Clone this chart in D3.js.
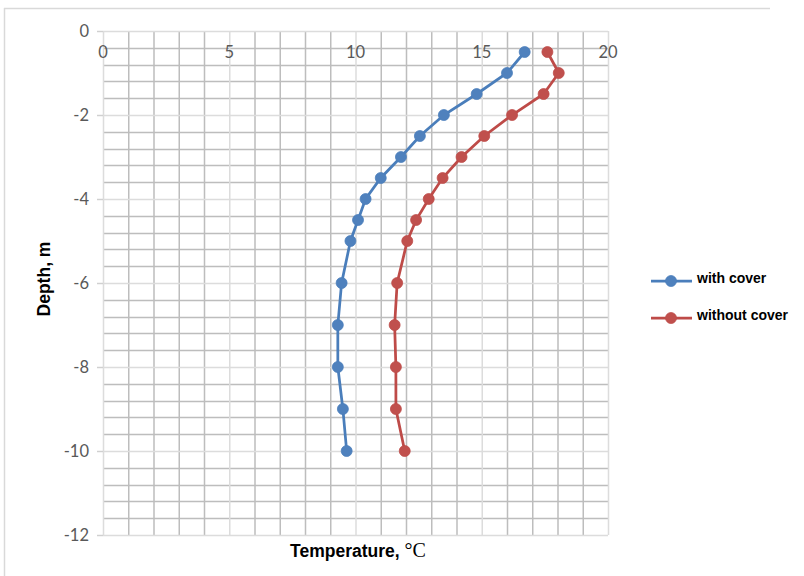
<!DOCTYPE html>
<html>
<head>
<meta charset="utf-8">
<script src="https://cdn.jsdelivr.net/npm/d3@7"></script>
<style>
  body { margin: 0; background: #fff; }
  .tick-label { font-family: Lato, "Liberation Sans", sans-serif; font-size: 16.5px; fill: #595959; }
  .axis-title { font-family: "Liberation Sans", Arial, sans-serif; font-weight: bold; font-size: 17.5px; fill: #000; }
  .legend-text { font-family: "Liberation Sans", Arial, sans-serif; font-weight: bold; font-size: 14px; fill: #000; }
</style>
</head>
<body>
<div id="chart"></div>
<script>
// depth below surface, m (plotted as negative)
const depths = [-0.5, -1, -1.5, -2, -2.5, -3, -3.5, -4, -4.5, -5, -6, -7, -8, -9, -10];
const withCover = [16.7, 16.0, 14.8, 13.5, 12.55, 11.8, 11.0, 10.4, 10.1, 9.8, 9.45, 9.3, 9.3, 9.5, 9.65];
const withoutCover = [17.6, 18.05, 17.45, 16.2, 15.1, 14.2, 13.45, 12.9, 12.4, 12.05, 11.65, 11.55, 11.6, 11.6, 11.95];
const seriesNames = ['with cover', 'without cover'];
const xTicks = [0, 5, 10, 15, 20];
const yTicks = [0, -2, -4, -6, -8, -10, -12];

const width = 804, height = 576;
const svg = d3.select('#chart').append('svg').attr('width', width).attr('height', height);

// outer frame (top + left only visible)
svg.append('line').attr('x1', 4).attr('x2', 770).attr('y1', 8.5).attr('y2', 8.5)
  .attr('stroke', '#d9d9d9').attr('stroke-width', 1.5);
svg.append('line').attr('x1', 4.5).attr('x2', 4.5).attr('y1', 8).attr('y2', height)
  .attr('stroke', '#d9d9d9').attr('stroke-width', 1.5);

const x = d3.scaleLinear().domain([0, 20]).range([103, 608]);
const y = d3.scaleLinear().domain([-12, 0]).range([535, 31]);

const grid = svg.append('g');
// minor gridlines
const xMinor = d3.range(0, 21, 1);
const yMinor = d3.range(0, 31).map(i => -i * 0.4);
grid.selectAll('.vminor').data(xMinor.filter(d => d % 5 !== 0)).enter().append('line')
  .attr('x1', d => x(d) + 0.5).attr('x2', d => x(d) + 0.5)
  .attr('y1', y(0)).attr('y2', y(-12))
  .attr('stroke', '#bdbdbd').attr('stroke-width', 1.5);
grid.selectAll('.hminor').data(yMinor.filter(d => Math.abs(d % 2) > 0.01 && Math.abs(d % 2) < 1.99)).enter().append('line')
  .attr('x1', x(0)).attr('x2', x(20))
  .attr('y1', d => Math.round(y(d)) + 0.5).attr('y2', d => Math.round(y(d)) + 0.5)
  .attr('stroke', '#bdbdbd').attr('stroke-width', 1.5);
// major gridlines (lighter)
grid.selectAll('.vmajor').data(xTicks).enter().append('line')
  .attr('x1', d => x(d) + 0.5).attr('x2', d => x(d) + 0.5)
  .attr('y1', y(0)).attr('y2', y(-12))
  .attr('stroke', '#dcdcdc').attr('stroke-width', 1.5);
grid.selectAll('.hmajor').data(yTicks).enter().append('line')
  .attr('x1', x(0)).attr('x2', x(20))
  .attr('y1', d => Math.round(y(d)) + 0.5).attr('y2', d => Math.round(y(d)) + 0.5)
  .attr('stroke', '#dcdcdc').attr('stroke-width', 1.5);

// y axis tick marks + labels
grid.selectAll('.ytick').data(yTicks).enter().append('line')
  .attr('x1', x(0) - 6).attr('x2', x(0))
  .attr('y1', d => Math.round(y(d)) + 0.5).attr('y2', d => Math.round(y(d)) + 0.5)
  .attr('stroke', '#d0d0d0').attr('stroke-width', 1.5);
svg.selectAll('.ylab').data(yTicks).enter().append('text')
  .attr('class', 'tick-label')
  .attr('x', 89).attr('y', d => y(d)).attr('dy', '0.35em')
  .attr('text-anchor', 'end')
  .text(d => d);

// x axis labels (Excel puts them just under the axis at top)
svg.selectAll('.xlab').data(xTicks).enter().append('text')
  .attr('class', 'tick-label')
  .attr('x', d => x(d)).attr('y', y(0) + 21).attr('dy', '0.35em')
  .attr('text-anchor', 'middle')
  .text(d => d);

// axis titles
svg.append('text').attr('class', 'axis-title')
  .attr('transform', 'translate(50,279) rotate(-90)')
  .attr('text-anchor', 'middle')
  .text('Depth, m');
const xt = svg.append('text').attr('class', 'axis-title')
  .attr('x', 358).attr('y', 557).attr('text-anchor', 'middle');
xt.append('tspan').text('Temperature, ');
xt.append('tspan').attr('font-family', '"Liberation Serif", serif').attr('font-weight', 'normal').attr('font-size', 20).text('°C');

// series
const series = [
  {name: seriesNames[0], values: withCover, line: '#4a7ebb', fill: '#4f81bd'},
  {name: seriesNames[1], values: withoutCover, line: '#be4b48', fill: '#c0504d'}
];
const line = d3.line().x(d => x(d[0])).y(d => y(d[1]));

series.forEach(s => {
  const pts = s.values.map((v, i) => [v, depths[i]]);
  const g = svg.append('g');
  g.append('path').datum(pts).attr('d', line)
    .attr('fill', 'none').attr('stroke', s.line).attr('stroke-width', 2.75);
  g.selectAll('circle').data(pts).enter().append('circle')
    .attr('cx', d => x(d[0])).attr('cy', d => y(d[1])).attr('r', 5.5)
    .attr('fill', s.fill).attr('stroke', s.line).attr('stroke-width', 0.75);
});

// legend
const legend = svg.append('g');
const legendY = [281, 318];
series.forEach((s, i) => {
  legend.append('line').attr('x1', 651).attr('x2', 692)
    .attr('y1', legendY[i]).attr('y2', legendY[i])
    .attr('stroke', s.line).attr('stroke-width', 2.75);
  legend.append('circle').attr('cx', 671).attr('cy', legendY[i]).attr('r', 5.5)
    .attr('fill', s.fill).attr('stroke', s.line).attr('stroke-width', 0.75);
  legend.append('text').attr('class', 'legend-text')
    .attr('x', 697).attr('y', legendY[i] - 3).attr('dy', '0.35em')
    .text(s.name);
});
</script>
</body>
</html>
